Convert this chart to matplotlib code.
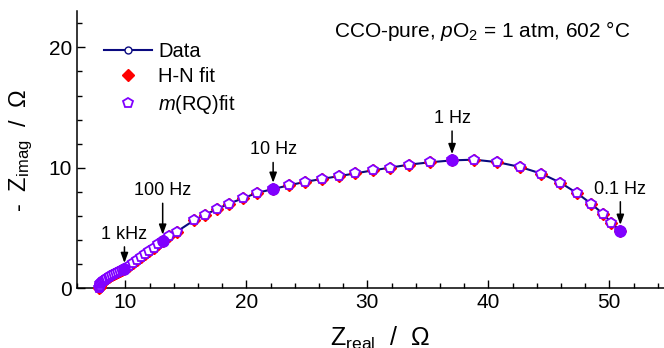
import matplotlib.pyplot as plt
from matplotlib.ticker import MultipleLocator

plt.rcParams['font.family'] = ['Liberation Sans', 'DejaVu Sans']
plt.rcParams['mathtext.fontset'] = 'custom'
plt.rcParams['mathtext.rm'] = 'Liberation Sans'
plt.rcParams['mathtext.it'] = 'Liberation Sans:italic'

# impedance spectrum, high to low frequency (10 points per decade)
z_real = [7.85, 7.87, 7.90, 7.94, 7.99, 8.05, 8.12, 8.20, 8.29, 8.39,
          8.50, 8.62, 8.75, 8.89, 9.04, 9.20, 9.37, 9.55, 9.73, 9.92,
          10.27, 10.60, 10.93, 11.28, 11.63, 11.98, 12.35, 12.72, 13.08,
          13.62, 14.24, 15.68, 16.57, 17.55, 18.54, 19.73, 20.88, 22.21,
          23.55, 24.88, 26.23, 27.69, 29.01, 30.44, 31.90, 33.47, 35.15, 37.00,
          38.84, 40.75, 42.64, 44.38, 45.95, 47.33, 48.49, 49.45, 50.17, 50.91]
z_imag = [0.03, 0.12, 0.22, 0.32, 0.42, 0.51, 0.59, 0.66, 0.72, 0.78,
          0.84, 0.91, 0.99, 1.07, 1.16, 1.25, 1.35, 1.43, 1.51, 1.58,
          1.85, 2.10, 2.35, 2.60, 2.86, 3.12, 3.38, 3.66, 3.93,
          4.30, 4.70, 5.65, 6.10, 6.57, 7.02, 7.48, 7.92, 8.24,
          8.56, 8.84, 9.08, 9.32, 9.54, 9.79, 10.02, 10.27, 10.46, 10.62,
          10.68, 10.47, 10.07, 9.52, 8.77, 7.90, 7.03, 6.20, 5.45, 4.75]

# both fits practically coincide with the measured points
hn_real, hn_imag = z_real, z_imag
rq_real, rq_imag = z_real, z_imag

# decade frequencies and their positions in the spectrum
freq_labels = ['1 kHz', '100 Hz', '10 Hz', '1 Hz', '0.1 Hz']
freq_index = [19, 28, 37, 47, 57]
label_offsets = [22, 33, 25, 27, 27]

navy = '#0a0a80'
purple = '#8000ff'
red = '#ff0000'

fig = plt.figure(figsize=(6.64, 3.48), dpi=100)
ax = fig.add_axes([0.116, 0.1716, 0.911, 0.796])

ax.plot(z_real, z_imag, '-o', color=navy, lw=1.5, ms=5, mfc='white',
        mec=navy, mew=1.0, label='Data', zorder=2, clip_on=False)
ax.plot(hn_real, hn_imag, 'D', ls='none', color=red, ms=6.5,
        label='H-N fit', zorder=3, clip_on=False)
ax.plot(rq_real, rq_imag, 'p', ls='none', mfc='white', mec=purple,
        mew=1.3, ms=7.8, label='$m$(RQ)fit', zorder=4, clip_on=False)

fx = [rq_real[i] for i in freq_index]
fy = [rq_imag[i] for i in freq_index]
ax.plot(fx, fy, 'o', color=purple, ms=8, zorder=5)

for lab, x, y, off in zip(freq_labels, fx, fy, label_offsets):
    ax.annotate(lab, xy=(x, y), xytext=(0, off), textcoords='offset points',
                ha='center', va='baseline', fontsize=13,
                arrowprops=dict(arrowstyle='-|>,head_length=0.6,head_width=0.22',
                                color='black', lw=1.1, mutation_scale=10,
                                shrinkA=1, shrinkB=4.5))

ax.set_xlim(6, 56)
ax.set_ylim(0, 23)
ax.xaxis.set_major_locator(MultipleLocator(10))
ax.xaxis.set_minor_locator(MultipleLocator(2))
ax.yaxis.set_major_locator(MultipleLocator(10))
ax.yaxis.set_minor_locator(MultipleLocator(2))
ax.tick_params(which='both', direction='in', width=1.0, labelsize=15)
ax.tick_params(which='major', length=5.5)
ax.tick_params(which='minor', length=3.5)
for s in ['top', 'right']:
    ax.spines[s].set_visible(False)
for s in ['left', 'bottom']:
    ax.spines[s].set_linewidth(1.1)

ax.set_xlabel('Z$_{\\rm real}$  /  Ω', fontsize=18, labelpad=9)
ax.set_ylabel('-  Z$_{\\rm imag}$  /  Ω', fontsize=17, labelpad=10)

ax.legend(loc='upper left', bbox_to_anchor=(0.0446, 0.89), frameon=False,
          fontsize=14.5, handlelength=2.4, handletextpad=0.3,
          labelspacing=0.32, borderpad=0, borderaxespad=0)

fig.text(0.949, 0.894, 'CCO-pure, $p$O$_2$ = 1 atm, 602 °C', fontsize=15,
         ha='right', va='baseline')

fig.savefig('out.png', dpi=100)
